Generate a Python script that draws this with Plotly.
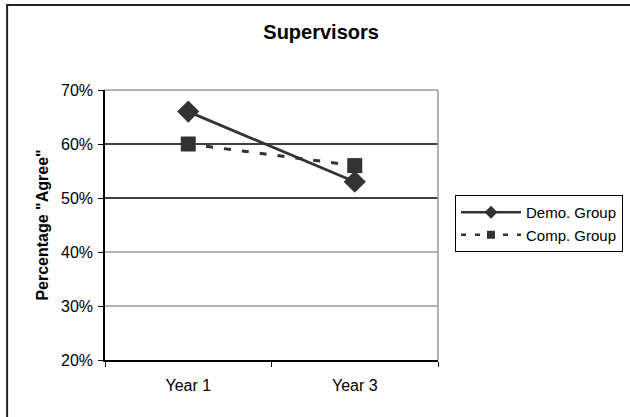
import plotly.graph_objects as go

# Survey results: share of respondents answering "Agree"
years = ["Year 1", "Year 3"]
demo_group = [0.66, 0.53]
comp_group = [0.60, 0.56]
y_ticks = [0.2, 0.3, 0.4, 0.5, 0.6, 0.7]
y_tick_labels = ["20%", "30%", "40%", "50%", "60%", "70%"]

FONT = "Liberation Sans, Arial, sans-serif"
INK = "#333333"

series = [
    dict(name="Demo. Group", values=demo_group, symbol="diamond", size=17, dash="solid", width=2.8),
    dict(name="Comp. Group", values=comp_group, symbol="square", size=15, dash="7px,11px", width=3),
]

fig = go.Figure()
for s in series:
    fig.add_trace(go.Scatter(
        x=years, y=s["values"], name=s["name"], mode="lines+markers",
        line=dict(color=INK, width=s["width"], dash=s["dash"]),
        marker=dict(symbol=s["symbol"], size=s["size"], color=INK),
        showlegend=False, legendgroup=s["name"],
    ))
# Legend entries with smaller key markers
for s in series:
    fig.add_trace(go.Scatter(
        x=[None], y=[None], name=s["name"], mode="lines+markers",
        line=dict(color=INK, width=2.5, dash="solid" if s["dash"] == "solid" else "5px,9px"),
        marker=dict(symbol=s["symbol"], size=10 if s["symbol"] == "diamond" else 8, color=INK),
        showlegend=True, legendgroup=s["name"],
    ))

# Horizontal gridlines drawn as full-width rules across the plot area
for v in y_ticks[1:-1]:
    dark = v >= 0.5
    fig.add_shape(type="line", xref="paper", yref="y", x0=0, x1=1, y0=v, y1=v,
                  line=dict(color="#000000" if dark else "#6a6a6a", width=1.4 if dark else 1.2),
                  layer="below")

# Outer chart frame
fig.add_shape(type="rect", xref="paper", yref="paper",
              x0=-0.294, x1=1.6, y0=-0.25, y1=1.315,
              line=dict(color="#222222", width=2))

fig.update_layout(
    width=630, height=417,
    margin=dict(l=105, r=192, t=90, b=57, autoexpand=False),
    paper_bgcolor="white", plot_bgcolor="white",
    font=dict(family=FONT, size=15, color="#000000"),
    title=dict(text="<b>Supervisors</b>", x=0.649, xref="paper", xanchor="center",
               y=1 - 32 / 417, yanchor="middle", font=dict(size=20)),
    showlegend=True,
    legend=dict(x=1.051, y=0.611, xanchor="left", yanchor="top",
                bordercolor="#000000", borderwidth=1, bgcolor="white",
                font=dict(size=15), itemwidth=60, tracegroupgap=0),
    xaxis=dict(
        type="category", range=[-0.5, 1.5], showgrid=False,
        showline=True, linecolor="#000000", linewidth=1.5,
        ticks="outside", ticklen=5, tickcolor="#000000",
        tickson="boundaries", tickfont=dict(size=16),
        ticklabelstandoff=10,
        mirror=False, zeroline=False,
    ),
    yaxis=dict(
        range=[0.2, 0.7], tickvals=y_ticks, ticktext=y_tick_labels,
        showgrid=False, zeroline=False,
        showline=True, linecolor="#000000", linewidth=1.5,
        ticks="outside", ticklen=5, tickcolor="#000000",
        tickfont=dict(size=16), ticklabelstandoff=2,
        title=dict(text='<b>Percentage "Agree"</b>', font=dict(size=16), standoff=8),
    ),
)

# Light gray border on the top and right of the plot area
fig.add_shape(type="line", xref="paper", yref="paper", x0=0, x1=1, y0=1, y1=1,
              line=dict(color="#999999", width=1.5))
fig.add_shape(type="line", xref="paper", yref="paper", x0=1, x1=1, y0=0, y1=1,
              line=dict(color="#999999", width=1.5))

fig.write_html("out.html")
